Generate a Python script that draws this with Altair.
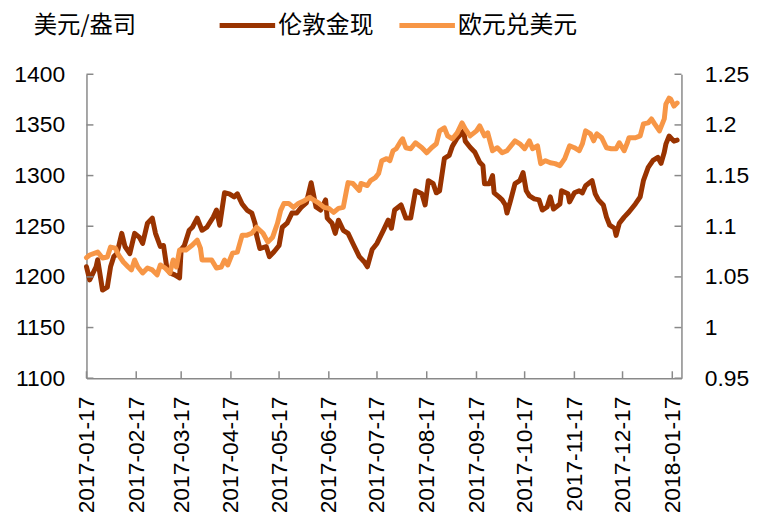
import altair as alt
import pandas as pd

START = "2017-01-17"
series_names = ["伦敦金现", "欧元兑美元"]
series_colors = ["#993300", "#F79646"]

# London gold spot (USD/oz): days after 2017-01-17, value
gold_days = [0, 2, 6, 7, 10, 13, 15, 17, 19, 22, 24, 27, 30, 33, 35, 38, 41, 43, 46, 48,
             50, 52, 55, 58, 59, 61, 64, 66, 69, 72, 75, 79, 81, 83, 86, 89, 92, 94, 97, 100,
             103, 105, 106, 108, 112, 114, 117, 120, 122, 125, 128, 131, 134, 137, 140, 143, 146, 149, 150, 153,
             155, 157, 160, 163, 166, 170, 173, 175, 178, 181, 185, 188, 190, 192, 196, 199, 202, 205, 209, 211,
             213, 216, 218, 220, 223, 226, 228, 231, 235, 236, 239, 242, 245, 247, 248, 251, 253, 254, 257, 259,
             261, 262, 264, 267, 270, 272, 274, 276, 279, 282, 284, 287, 289, 291, 295, 296, 300, 301, 304, 307,
             309, 311, 315, 317, 319, 322, 324, 326, 329, 330, 332, 335, 338, 342, 345, 347, 350, 353, 356, 358,
             360, 361, 363, 366, 368]
gold_vals = [1210, 1197, 1210, 1217, 1187, 1190, 1210, 1220, 1223, 1243, 1230, 1223, 1243, 1239, 1233, 1253, 1258, 1243, 1230, 1231,
             1210, 1204, 1202, 1199, 1227, 1231, 1246, 1249, 1258, 1246, 1249, 1259, 1266, 1251, 1283, 1282, 1279, 1282, 1272, 1266,
             1263, 1253, 1241, 1228, 1230, 1220, 1225, 1231, 1249, 1253, 1263, 1263, 1269, 1273, 1293, 1269, 1266, 1276, 1258, 1253,
             1243, 1256, 1246, 1243, 1233, 1220, 1215, 1210, 1227, 1233, 1246, 1256, 1248, 1266, 1271, 1258, 1258, 1285, 1282, 1271,
             1295, 1292, 1283, 1285, 1317, 1320, 1329, 1337, 1344, 1334, 1328, 1323, 1313, 1310, 1292, 1292, 1300, 1283, 1279, 1276,
             1271, 1263, 1274, 1292, 1295, 1303, 1285, 1280, 1277, 1276, 1266, 1269, 1279, 1267, 1272, 1285, 1282, 1274, 1283, 1285,
             1283, 1290, 1295, 1282, 1276, 1271, 1259, 1251, 1248, 1241, 1253, 1259, 1264, 1272, 1279, 1295, 1308, 1315, 1318, 1312,
             1323, 1331, 1339, 1334, 1335]

# EUR/USD: days after 2017-01-17, value
eur_days = [0, 2, 7, 10, 13, 15, 18, 20, 23, 26, 28, 30, 32, 35, 38, 41, 44, 46, 49, 52,
            54, 56, 58, 62, 66, 69, 71, 72, 75, 78, 81, 84, 86, 88, 91, 94, 97, 100, 103, 106,
            110, 113, 116, 119, 121, 123, 126, 129, 132, 136, 139, 142, 145, 148, 151, 154, 157, 160, 162, 163,
            166, 170, 171, 175, 177, 180, 182, 184, 187, 189, 191, 193, 196, 197, 199, 202, 205, 209, 212, 215,
            218, 220, 223, 225, 228, 231, 234, 236, 239, 243, 245, 248, 250, 253, 256, 259, 262, 267, 270, 273,
            276, 278, 281, 283, 286, 289, 292, 295, 298, 301, 304, 307, 309, 311, 314, 316, 318, 321, 324, 327,
            330, 332, 335, 337, 338, 342, 345, 347, 350, 352, 354, 357, 360, 361, 363, 364, 366, 368]
eur_vals = [1.0690, 1.0716, 1.0745, 1.0686, 1.0696, 1.0794, 1.0784, 1.0716, 1.0647, 1.0598, 1.0569, 1.0667, 1.0598, 1.0539, 1.0588, 1.0569, 1.0520, 1.0618, 1.0588, 1.0539,
            1.0667, 1.0598, 1.0765, 1.0765, 1.0814, 1.0863, 1.0784, 1.0667, 1.0667, 1.0667, 1.0588, 1.0598, 1.0667, 1.0618, 1.0735, 1.0745, 1.0912, 1.0912, 1.0931, 1.0990,
            1.0931, 1.0843, 1.0892, 1.1029, 1.1157, 1.1225, 1.1225, 1.1186, 1.1225, 1.1255, 1.1284, 1.1255, 1.1225, 1.1186, 1.1176, 1.1137, 1.1176, 1.1186, 1.1353, 1.1431,
            1.1422, 1.1353, 1.1422, 1.1402, 1.1451, 1.1480, 1.1520, 1.1647, 1.1667, 1.1647, 1.1745, 1.1765, 1.1843, 1.1863, 1.1775, 1.1765, 1.1824, 1.1775, 1.1725, 1.1775,
            1.1814, 1.1941, 1.1971, 1.1892, 1.1863, 1.1922, 1.2020, 1.1961, 1.1892, 1.1941, 1.1990, 1.1892, 1.1922, 1.1745, 1.1775, 1.1725, 1.1745, 1.1843, 1.1814, 1.1765,
            1.1843, 1.1765, 1.1794, 1.1618, 1.1647, 1.1627, 1.1618, 1.1598, 1.1667, 1.1794, 1.1775, 1.1745, 1.1814, 1.1941, 1.1912, 1.1843, 1.1912, 1.1873, 1.1775, 1.1765,
            1.1765, 1.1824, 1.1745, 1.1824, 1.1873, 1.1873, 1.1892, 1.2010, 1.2020, 1.2059, 1.2010, 1.1941, 1.2059, 1.2206, 1.2265, 1.2255, 1.2186, 1.2216]

left_ticks = [1100, 1150, 1200, 1250, 1300, 1350, 1400]
right_ticks = [0.95, 1.0, 1.05, 1.1, 1.15, 1.2, 1.25]
month_ticks = ["2017-01-17", "2017-02-17", "2017-03-17", "2017-04-17", "2017-05-17",
               "2017-06-17", "2017-07-17", "2017-08-17", "2017-09-17", "2017-10-17",
               "2017-11-17", "2017-12-17", "2018-01-17"]
x_end = "2018-01-22T17:00:00"

base = pd.Timestamp(START)


def to_dates(days):
    return [(base + pd.Timedelta(days=d)).strftime("%Y-%m-%d") for d in days]


def ms(s):
    return int(pd.Timestamp(s, tz="UTC").value // 10**6)


gold_df = pd.DataFrame({"date": to_dates(gold_days), "value": gold_vals, "series": series_names[0]})
eur_df = pd.DataFrame({"date": to_dates(eur_days), "value": eur_vals, "series": series_names[1]})
left_df = pd.DataFrame({"v": left_ticks})
right_df = pd.DataFrame({"v": right_ticks})
month_df = pd.DataFrame({"date": month_ticks})

W, H = 599, 306
FONT = "Liberation Sans"
CJK = "Noto Sans CJK SC"
AX = "#898989"
FS = 23

x_scale = alt.Scale(type="utc", domain=[ms(START), ms(x_end)])
left_scale = alt.Scale(domain=[1100, 1400], nice=False, zero=False)
right_scale = alt.Scale(domain=[0.95, 1.25], nice=False, zero=False)

x_axis = alt.Axis(values=[ms(s) for s in month_ticks], format="%Y-%m-%d", labelAngle=270,
                  labelAlign="right", labelBaseline="middle", labelPadding=18, ticks=False,
                  domainColor=AX, domainWidth=1.5, labelFont=FONT, labelFontSize=FS,
                  labelColor="#000000", labelFlush=False, labelOverlap=False, grid=False, title=None)

left_axis = alt.Axis(orient="left", values=left_ticks, format="d", ticks=False, labelPadding=22,
                     domainColor=AX, domainWidth=1.5, labelFont=FONT, labelFontSize=FS,
                     labelColor="#000000", labelFlush=False, grid=False,
                     title="美元/盎司", titleAngle=0, titleX=-2, titleY=-49, titleAlign="center",
                     titleBaseline="middle", titleFont=CJK, titleFontSize=23.5, titleFontWeight="normal",
                     titleColor="#000000")

right_axis = alt.Axis(orient="right", values=right_ticks, format=".2~f", ticks=False, labelPadding=23,
                      domainColor=AX, domainWidth=1.5, labelFont=FONT, labelFontSize=FS,
                      labelColor="#000000", labelFlush=False, grid=False, title=None)

color = alt.Color("series:N", scale=alt.Scale(domain=series_names, range=series_colors),
                  legend=alt.Legend(orient="none", legendX=134, legendY=-63, direction="horizontal",
                                    title=None, symbolType="M-2.43,0L2.43,0", symbolSize=529,
                                    symbolStrokeWidth=5, symbolOffset=14, labelOffset=17,
                                    columnPadding=16, padding=0, labelFont=CJK, labelFontSize=24,
                                    labelColor="#000000", labelLimit=400))

line_kw = dict(strokeWidth=5, strokeJoin="round", strokeCap="round")

gold = alt.Chart(gold_df).mark_line(**line_kw).encode(
    x=alt.X("date:T", scale=x_scale, axis=x_axis),
    y=alt.Y("value:Q", scale=left_scale, axis=left_axis),
    color=color,
)
eur = alt.Chart(eur_df).mark_line(**line_kw).encode(
    x=alt.X("date:T", scale=x_scale, axis=x_axis),
    y=alt.Y("value:Q", scale=right_scale, axis=right_axis),
    color=color,
)
lt = alt.Chart(left_df).mark_rule(color=AX, strokeWidth=1.5).encode(
    y=alt.Y("v:Q", scale=left_scale, axis=None), x=alt.value(0), x2=alt.value(7))
rt = alt.Chart(right_df).mark_rule(color=AX, strokeWidth=1.5).encode(
    y=alt.Y("v:Q", scale=right_scale, axis=None), x=alt.value(W - 7), x2=alt.value(W))
bt = alt.Chart(month_df).mark_rule(color=AX, strokeWidth=1.5).encode(
    x=alt.X("date:T", scale=x_scale, axis=x_axis), y=alt.value(H - 7), y2=alt.value(H))

chart = alt.layer(gold, lt, bt, eur, rt).resolve_scale(y="independent").properties(
    width=W, height=H, padding={"left": 5, "top": 2, "right": 0, "bottom": 0}
).configure_view(stroke=None)

chart.save("out.html", embed_options={"renderer": "svg", "actions": False})
